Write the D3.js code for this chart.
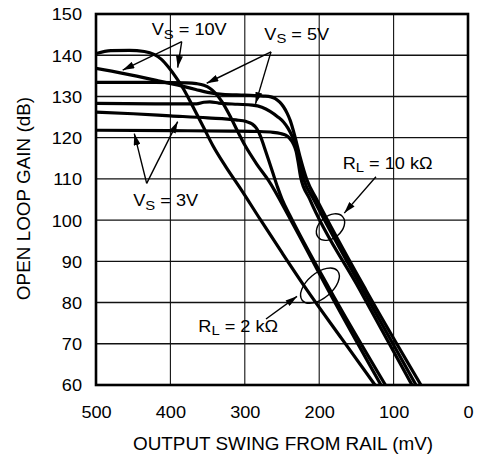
<!DOCTYPE html>
<html>
<head>
<meta charset="utf-8">
<script src="https://cdn.jsdelivr.net/npm/d3@7/dist/d3.min.js"></script>
<style>
  html, body { margin: 0; padding: 0; background: #fff; }
  svg { display: block; }
</style>
</head>
<body>
<div id="chart"></div>
<script>
// ---- axis ticks ----
const swingTicks = [500, 400, 300, 200, 100, 0];          // output swing from rail, mV
const gainTicks = [60, 70, 80, 90, 100, 110, 120, 130, 140, 150]; // open loop gain, dB

// ---- open loop gain curves: [swing mV, gain dB] ----
const vs10Rl2k = [[500,140.4],[480,141.1],[455,141.2],[435,140.9],[422,140.2],[412,139.0],[403,137.2],[392,134.5],[382,131.7],[370,127.6],[356,122.7],[343,118.1],[325,112.8],[306,107.7],[279,100.1],[250,92.1],[217,83.2],[170,71.3],[125,60]];
const vs10Rl10k = [[500,136.8],[464,135.6],[419,133.9],[384,132.5],[366,131.7],[350,131.0],[330,130.5],[300,130.3],[275,130.1],[265,129.9],[259,129.5],[253,128.6],[248,127.5],[243,125.9],[239,124.2],[232.5,120.2],[226,115.5],[216.4,109.7],[203,104.9],[137.1,83],[63.2,60]];
const vs5Rl2k = [[500,133.4],[420,133.4],[378,133.3],[365,133.1],[355,132.7],[347,132.0],[340,130.9],[331,128.8],[320,125.3],[309,121.3],[300,118.2],[284,113.6],[268.4,109.7],[239,100.3],[187.8,83],[117,60]];
const vs5Rl10k = [[500,128.3],[420,128.2],[365,128.2],[355,128.6],[347,128.7],[335,128.4],[310,128.1],[290,127.9],[277,127.4],[266,126.4],[256,125.1],[248,123.8],[242,122.3],[236,120.2],[230,117.3],[220.4,109.7],[207,104.9],[141.1,83],[69.9,60]];
const vs3Rl2k = [[500,126.2],[450,125.8],[400,125.3],[350,124.8],[312,124.3],[298,123.9],[290,123.3],[284,122.2],[279,120.4],[274,117.8],[268,114.6],[262,111.3],[256,108.0],[250,105.1],[239,101.0],[187,83.6],[111,60]];
const vs3Rl10k = [[500,121.8],[400,121.7],[320,121.6],[280,121.5],[262,121.3],[252,121.0],[245,120.6],[240,119.9],[235,118.6],[231,116.7],[228,113.8],[225,110.5],[213,105.2],[145.2,83],[75.3,60]];

const curves = [vs10Rl2k, vs10Rl10k, vs5Rl2k, vs5Rl10k, vs3Rl2k, vs3Rl10k];

// ---- annotations (data units) ----
const labelText = [
  {main: "V", sub: "S", rest: " = 10V", at: [425.1, 144.9]},
  {main: "V", sub: "S", rest: " = 5V",  at: [273.8, 143.7]},
  {main: "V", sub: "S", rest: " = 3V",  at: [449.9, 103.4]},
  {main: "R", sub: "L", rest: " = 10 k\u03A9", at: [168.4, 112.5]},
  {main: "R", sub: "L", rest: " = 2 k\u03A9",  at: [362.5, 72.9]}
];
const arrowFrom = [[384.8,143.3],[384.8,143.3],[264.8,140.8],[264.8,140.8],[431.9,108.9],[431.9,108.9],[123.7,110.5],[271.5,76.0]];
const arrowTo   = [[464.1,136.4],[390.2,137.0],[351.2,133.2],[285.6,128.2],[448.5,121.0],[390.2,123.9],[166.3,101.7],[229.8,81.5]];
const loadRings = [
  {center: [184.8, 98.3], rx: 16, ry: 11},
  {center: [199.0, 84.1], rx: 23, ry: 12.5}
];

const W = 482, H = 459;
const FONT = '"Liberation Sans", Arial, Helvetica, sans-serif';
const SX = 1.1; // slight horizontal stretch of the lettering

const x = d3.scaleLinear().domain([500, 0]).range([96, 468]);
const y = d3.scaleLinear().domain([60, 150]).range([385, 14]);

const svg = d3.select("#chart").append("svg")
  .attr("width", W).attr("height", H)
  .attr("viewBox", `0 0 ${W} ${H}`)
  .style("font-family", FONT);

svg.append("rect").attr("width", W).attr("height", H).attr("fill", "#fff");

const defs = svg.append("defs");
defs.append("clipPath").attr("id", "plot-clip")
  .append("rect")
  .attr("x", x(500)).attr("y", y(150))
  .attr("width", x(0) - x(500)).attr("height", y(60) - y(150));
defs.append("marker")
  .attr("id", "head")
  .attr("viewBox", "0 0 10 6")
  .attr("refX", 10).attr("refY", 3)
  .attr("markerWidth", 12).attr("markerHeight", 7)
  .attr("markerUnits", "userSpaceOnUse")
  .attr("orient", "auto")
  .append("path").attr("d", "M0,0 L10,3 L0,6 Z").attr("fill", "#000");

// ---- grid ----
const grid = svg.append("g");
grid.selectAll("line.v")
  .data(swingTicks.filter(d => d !== 500 && d !== 0))
  .join("line").attr("class", "v")
  .attr("x1", d => x(d)).attr("x2", d => x(d))
  .attr("y1", y(150)).attr("y2", y(60))
  .attr("stroke", "#111").attr("stroke-width", 1.1);
grid.selectAll("line.h")
  .data(gainTicks.filter(d => d !== 60 && d !== 150))
  .join("line").attr("class", "h")
  .attr("x1", x(500)).attr("x2", x(0))
  .attr("y1", d => y(d)).attr("y2", d => y(d))
  .attr("stroke", "#111").attr("stroke-width", 1.4);

// ---- curves ----
const line = d3.line()
  .x(d => x(d[0]))
  .y(d => y(d[1]))
  .curve(d3.curveMonotoneX);

svg.append("g").attr("clip-path", "url(#plot-clip)")
  .selectAll("path")
  .data(curves)
  .join("path")
  .attr("d", line)
  .attr("fill", "none")
  .attr("stroke", "#000")
  .attr("stroke-width", 3.2)
  .attr("stroke-linejoin", "round");

// ---- frame ----
svg.append("rect")
  .attr("x", x(500)).attr("y", y(150))
  .attr("width", x(0) - x(500)).attr("height", y(60) - y(150))
  .attr("fill", "none").attr("stroke", "#000").attr("stroke-width", 2.6);

// ---- axes ----
const gx = svg.append("g")
  .attr("transform", `translate(0,${y(60)})`)
  .call(d3.axisBottom(x).tickValues(swingTicks).tickSize(0).tickPadding(21).tickFormat(d3.format("d")));
gx.attr("font-family", FONT).attr("font-size", 16.5);
gx.select(".domain").remove();
gx.selectAll("text").attr("fill", "#000").attr("transform", `scale(${SX},1)`);

const gy = svg.append("g")
  .attr("transform", `translate(${x(500)},0)`)
  .call(d3.axisLeft(y).tickValues(gainTicks).tickSize(0).tickPadding(12.7).tickFormat(d3.format("d")));
gy.attr("font-family", FONT).attr("font-size", 16.5);
gy.select(".domain").remove();
gy.selectAll("text").attr("fill", "#000").attr("dy", "0.36em").attr("transform", `scale(${SX},1)`);

// axis titles
svg.append("text")
  .attr("transform", `translate(283,450) scale(1.08,1)`)
  .attr("text-anchor", "middle")
  .attr("font-size", 17.5)
  .attr("fill", "#000")
  .text("OUTPUT SWING FROM RAIL (mV)");
svg.append("text")
  .attr("transform", `translate(29.5,198.5) rotate(-90) scale(1.08,1)`)
  .attr("text-anchor", "middle")
  .attr("font-size", 17.5)
  .attr("fill", "#000")
  .text("OPEN LOOP GAIN (dB)");

// ---- annotations ----
const notes = svg.append("g");
notes.selectAll("line")
  .data(d3.zip(arrowFrom, arrowTo))
  .join("line")
  .attr("x1", d => x(d[0][0])).attr("y1", d => y(d[0][1]))
  .attr("x2", d => x(d[1][0])).attr("y2", d => y(d[1][1]))
  .attr("stroke", "#000").attr("stroke-width", 1.4)
  .attr("marker-end", "url(#head)");

notes.selectAll("ellipse")
  .data(loadRings)
  .join("ellipse")
  .attr("transform", d => `translate(${x(d.center[0])},${y(d.center[1])}) rotate(-40)`)
  .attr("rx", d => d.rx).attr("ry", d => d.ry)
  .attr("fill", "none").attr("stroke", "#000").attr("stroke-width", 1.4);

const labels = notes.selectAll("text.lbl")
  .data(labelText)
  .join("text").attr("class", "lbl")
  .attr("transform", d => `translate(${x(d.at[0])},${y(d.at[1])}) scale(${SX},1)`)
  .attr("font-size", 16.5)
  .attr("fill", "#000");
labels.append("tspan").text(d => d.main);
labels.append("tspan").attr("font-size", 13.5).attr("dy", 3.5).text(d => d.sub);
labels.append("tspan").attr("dy", -3.5).text(d => d.rest);
</script>
</body>
</html>
